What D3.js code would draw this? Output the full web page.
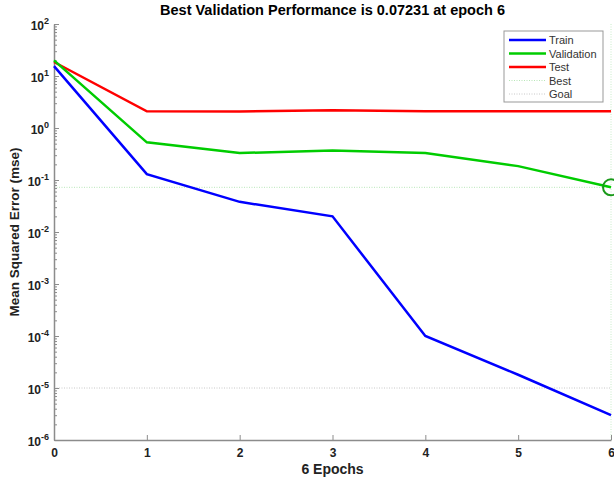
<!DOCTYPE html>
<html>
<head>
<meta charset="utf-8">
<script src="https://cdn.jsdelivr.net/npm/d3@7"></script>
<style>
  body { margin: 0; background: #fff; }
  svg { font-family: "Liberation Sans", Arial, sans-serif; }
</style>
</head>
<body>
<div id="chart"></div>
<script>
const epochs = [0, 1, 2, 3, 4, 5, 6];
const trainPerf = [15.5, 0.13, 0.038, 0.02, 0.0001, 0.000018, 0.000003];
const valPerf = [20, 0.53, 0.33, 0.37, 0.33, 0.185, 0.07231];
const testPerf = [18.6, 2.1, 2.08, 2.2, 2.1, 2.1, 2.1];
const bestEpoch = 6;
const bestVal = 0.07231;
const goal = 0.00001;
const yDecades = [1e-6, 1e-5, 1e-4, 1e-3, 1e-2, 1e-1, 1e0, 1e1, 1e2];
const legendNames = ['Train', 'Validation', 'Test', 'Best', 'Goal'];

const width = 614, height = 481;
const margin = { top: 24, right: 3, bottom: 41, left: 54 };

const svg = d3.select('#chart').append('svg')
  .attr('width', width)
  .attr('height', height);

const x = d3.scaleLinear().domain([0, 6]).range([margin.left, width - margin.right]);
const y = d3.scaleLog().domain([1e-6, 1e2]).range([height - margin.bottom, margin.top]);

const axisColor = '#8c8c8c';

// reference lines: best and goal
svg.append('line')
  .attr('x1', x(0)).attr('x2', x(6))
  .attr('y1', y(bestVal)).attr('y2', y(bestVal))
  .attr('stroke', '#b8e6b8').attr('stroke-width', 1).attr('stroke-dasharray', '1,1.5');
svg.append('line')
  .attr('x1', x(bestEpoch)).attr('x2', x(bestEpoch))
  .attr('y1', y(1e2)).attr('y2', y(1e-6))
  .attr('stroke', '#c8ecc8').attr('stroke-width', 1).attr('stroke-dasharray', '1,1.5');
svg.append('line')
  .attr('x1', x(0)).attr('x2', x(6))
  .attr('y1', y(goal)).attr('y2', y(goal))
  .attr('stroke', '#c8c8c8').attr('stroke-width', 1).attr('stroke-dasharray', '1,1.5');

// axes
const minor = [];
yDecades.slice(0, -1).forEach(d => { for (let k = 2; k <= 9; k++) minor.push(d * k); });

svg.append('g')
  .attr('transform', `translate(${margin.left},0)`)
  .call(d3.axisLeft(y).tickValues(minor).tickSize(-3).tickFormat(''))
  .call(g => g.select('.domain').remove())
  .call(g => g.selectAll('line').attr('stroke', axisColor));

const yAxis = svg.append('g')
  .attr('transform', `translate(${margin.left},0)`)
  .call(d3.axisLeft(y).tickValues(yDecades).tickSize(-5).tickSizeOuter(0).tickPadding(5).tickFormat(''));
yAxis.select('.domain').attr('stroke', axisColor).attr('stroke-width', 1.5);
yAxis.selectAll('line').attr('stroke', axisColor);
yAxis.selectAll('.tick text').each(function(d) {
  const t = d3.select(this)
    .attr('font-size', 12).attr('font-weight', 'bold').attr('fill', '#222')
    .attr('dy', '0.45em');
  t.append('tspan').text('10');
  t.append('tspan').attr('font-size', 9).attr('dy', -6).text(Math.round(Math.log10(d)));
});

const xAxis = svg.append('g')
  .attr('transform', `translate(0,${height - margin.bottom})`)
  .call(d3.axisBottom(x).tickValues(epochs).tickSize(-5).tickSizeOuter(0).tickPadding(8).tickFormat(d3.format('d')));
xAxis.select('.domain').attr('stroke', axisColor).attr('stroke-width', 1.5);
xAxis.selectAll('line').attr('stroke', axisColor);
xAxis.selectAll('text').attr('font-size', 12).attr('font-weight', 'bold').attr('fill', '#222');

// series
const line = d3.line().x((d, i) => x(epochs[i])).y(d => y(d));
const series = [
  { name: 'Train', values: trainPerf, color: '#0000ff' },
  { name: 'Validation', values: valPerf, color: '#00cc00' },
  { name: 'Test', values: testPerf, color: '#ff0000' }
];
series.slice().reverse().forEach(s => {
  svg.append('path')
    .datum(s.values)
    .attr('d', line)
    .attr('fill', 'none')
    .attr('stroke', s.color)
    .attr('stroke-width', 2.5);
});

// best circle
svg.append('circle')
  .attr('cx', x(bestEpoch)).attr('cy', y(bestVal)).attr('r', 8)
  .attr('fill', 'none').attr('stroke', '#1a9a1a').attr('stroke-width', 2);

// title and labels
svg.append('text')
  .attr('x', (x(0) + x(6)) / 2).attr('y', 15)
  .attr('text-anchor', 'middle').attr('font-size', 14.5).attr('font-weight', 'bold')
  .text(`Best Validation Performance is ${bestVal} at epoch ${bestEpoch}`);
svg.append('text')
  .attr('x', (x(0) + x(6)) / 2).attr('y', 474)
  .attr('text-anchor', 'middle').attr('font-size', 14).attr('font-weight', 'bold').attr('fill', '#222')
  .text(`${epochs.length - 1} Epochs`);
svg.append('text')
  .attr('transform', `translate(19,${(y(1e2) + y(1e-6)) / 2}) rotate(-90)`)
  .attr('text-anchor', 'middle').attr('font-size', 13.5).attr('font-weight', 'bold').attr('fill', '#222')
  .text('Mean Squared Error  (mse)');

// legend
const legend = svg.append('g').attr('transform', 'translate(504,31)');
legend.append('rect')
  .attr('width', 99).attr('height', 71)
  .attr('fill', '#fff').attr('stroke', '#999').attr('stroke-width', 1);
const legendStyles = [
  { color: '#0000ff', w: 2.5, dash: null },
  { color: '#00cc00', w: 2.5, dash: null },
  { color: '#ff0000', w: 2.5, dash: null },
  { color: '#b8e6b8', w: 1, dash: '1,1.5' },
  { color: '#c8c8c8', w: 1, dash: '1,1.5' }
];
legendNames.forEach((name, i) => {
  const ly = 9 + i * 13.5;
  legend.append('line')
    .attr('x1', 5).attr('x2', 42).attr('y1', ly).attr('y2', ly)
    .attr('stroke', legendStyles[i].color).attr('stroke-width', legendStyles[i].w)
    .attr('stroke-dasharray', legendStyles[i].dash);
  legend.append('text')
    .attr('x', 45).attr('y', ly + 4)
    .attr('font-size', 11).attr('fill', '#333')
    .text(name);
});
</script>
</body>
</html>
